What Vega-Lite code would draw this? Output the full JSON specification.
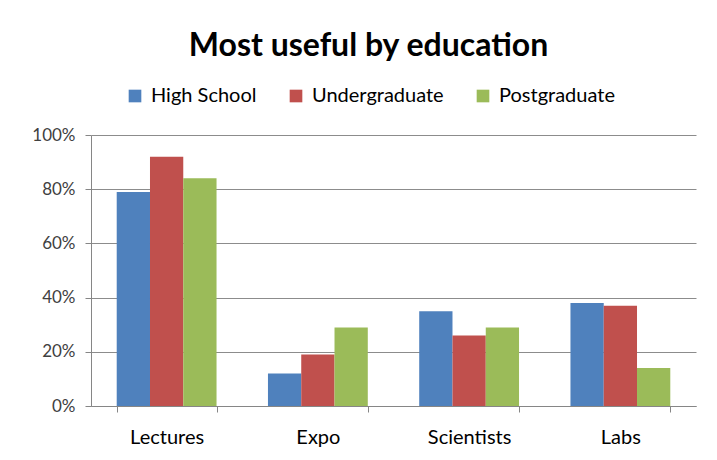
{
  "$schema": "https://vega.github.io/schema/vega-lite/v6.json",
  "autosize": "none",
  "width": 605,
  "height": 271,
  "padding": {"left": 91, "top": 135, "right": 21, "bottom": 54},
  "background": "white",
  "title": {
    "text": "Most useful by education",
    "font": "Lato",
    "fontSize": 32,
    "fontWeight": "bold",
    "color": "#000000",
    "anchor": "middle",
    "dx": -25,
    "offset": 23
  },
  "data": {
    "values": [
      {"category": "Lectures", "education": "High School", "value": 0.79},
      {"category": "Lectures", "education": "Undergraduate", "value": 0.92},
      {"category": "Lectures", "education": "Postgraduate", "value": 0.84},
      {"category": "Expo", "education": "High School", "value": 0.12},
      {"category": "Expo", "education": "Undergraduate", "value": 0.19},
      {"category": "Expo", "education": "Postgraduate", "value": 0.29},
      {"category": "Scientists", "education": "High School", "value": 0.35},
      {"category": "Scientists", "education": "Undergraduate", "value": 0.26},
      {"category": "Scientists", "education": "Postgraduate", "value": 0.29},
      {"category": "Labs", "education": "High School", "value": 0.38},
      {"category": "Labs", "education": "Undergraduate", "value": 0.37},
      {"category": "Labs", "education": "Postgraduate", "value": 0.14}
    ]
  },
  "mark": {"type": "bar"},
  "encoding": {
    "x": {
      "field": "category",
      "type": "nominal",
      "sort": ["Lectures", "Expo", "Scientists", "Labs"],
      "scale": {"paddingInner": 0.34, "paddingOuter": 0.17},
      "axis": {
        "title": null,
        "labelAngle": 0,
        "labelFont": "Lato",
        "labelFontSize": 20,
        "labelColor": "#000000",
        "labelPadding": 15,
        "tickBand": "extent",
        "tickSize": 6,
        "tickColor": "#868686",
        "domainColor": "#868686",
        "grid": false
      }
    },
    "xOffset": {
      "field": "education",
      "type": "nominal",
      "sort": ["High School", "Undergraduate", "Postgraduate"]
    },
    "y": {
      "field": "value",
      "type": "quantitative",
      "scale": {"domain": [0, 1]},
      "axis": {
        "title": null,
        "format": ".0%",
        "values": [0, 0.2, 0.4, 0.6, 0.8, 1],
        "labelFont": "Lato",
        "labelFontSize": 17,
        "labelColor": "#404040",
        "labelPadding": 10,
        "tickSize": 6,
        "tickColor": "#868686",
        "domainColor": "#868686",
        "gridColor": "#8c8c8c",
        "gridWidth": 1
      }
    },
    "color": {
      "field": "education",
      "type": "nominal",
      "sort": ["High School", "Undergraduate", "Postgraduate"],
      "scale": {
        "domain": ["High School", "Undergraduate", "Postgraduate"],
        "range": ["#4F81BD", "#C0504D", "#9BBB59"]
      },
      "legend": {
        "title": null,
        "orient": "none",
        "legendX": 34,
        "legendY": -49,
        "direction": "horizontal",
        "symbolType": "square",
        "symbolSize": 160,
        "symbolStrokeWidth": 0,
        "labelFont": "Lato",
        "labelFontSize": 20,
        "labelColor": "#000000",
        "columnPadding": 29,
        "labelOffset": 6
      }
    }
  },
  "config": {
    "view": {"stroke": null}
  }
}
